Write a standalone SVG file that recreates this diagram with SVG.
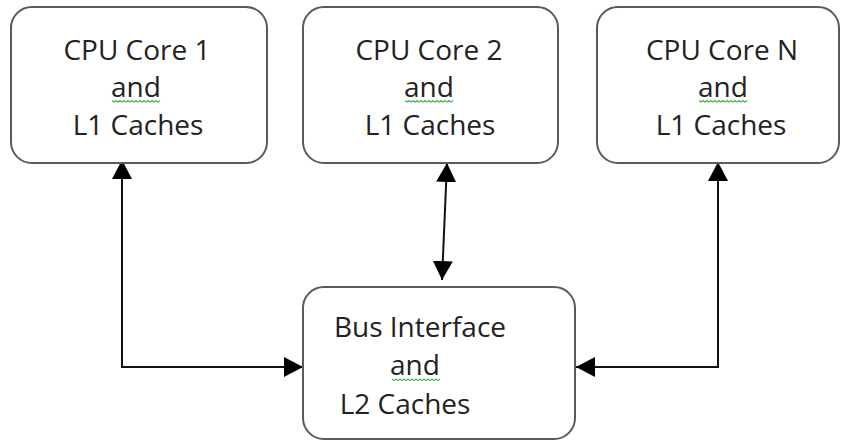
<svg xmlns="http://www.w3.org/2000/svg" width="841" height="441" viewBox="0 0 841 441">
  <style>
    .box { fill: #ffffff; stroke: #5a5a5a; stroke-width: 2; }
    .label { font-family: "Open Sans", "Noto Sans", sans-serif; font-size: 28px; fill: #222222; text-anchor: middle; }
    .wire { fill: none; stroke: #111111; stroke-width: 2; }
    .squiggle { fill: none; stroke: #44b049; stroke-width: 1.2; }
  </style>
  <defs>
    <marker id="arrow" viewBox="0 0 19 20" refX="19" refY="10" markerWidth="19" markerHeight="20" markerUnits="userSpaceOnUse" orient="auto-start-reverse">
      <path d="M0,0 L19,10 L0,20 Z" fill="#000000"/>
    </marker>
    <path id="wave" d="M0,0 l2,1.6 l2,-1.6 l2,1.6 l2,-1.6 l2,1.6 l2,-1.6 l2,1.6 l2,-1.6 l2,1.6 l2,-1.6 l2,1.6 l2,-1.6 l2,1.6 l2,-1.6 l2,1.6 l2,-1.6 l2,1.6 l2,-1.6 l2,1.6 l2,-1.6 l2,1.6 l2,-1.6 l2,1.6 l2,-1.6"/>
  </defs>

  <g id="connectors">
    <path class="wire" d="M122,160 L122,367 L303,367" marker-start="url(#arrow)" marker-end="url(#arrow)"/>
    <path class="wire" d="M447,163 L442,280" marker-start="url(#arrow)" marker-end="url(#arrow)"/>
    <path class="wire" d="M718,162 L718,367 L576,367" marker-start="url(#arrow)" marker-end="url(#arrow)"/>
  </g>

  <g id="core1">
    <rect class="box" x="11" y="7" width="256" height="156" rx="21"/>
    <text class="label" x="137" y="60">CPU Core 1</text>
    <text class="label" x="136" y="97">and</text>
    <text class="label" x="138" y="135">L1 Caches</text>
    <use href="#wave" class="squiggle" x="112" y="100.5"/>
  </g>

  <g id="core2">
    <rect class="box" x="303" y="7" width="255" height="156" rx="21"/>
    <text class="label" x="429" y="60">CPU Core 2</text>
    <text class="label" x="429" y="97">and</text>
    <text class="label" x="430" y="135">L1 Caches</text>
    <use href="#wave" class="squiggle" x="405" y="100.5"/>
  </g>

  <g id="coreN">
    <rect class="box" x="597" y="7" width="242" height="156" rx="21"/>
    <text class="label" x="722" y="60">CPU Core N</text>
    <text class="label" x="723" y="97">and</text>
    <text class="label" x="721" y="135">L1 Caches</text>
    <use href="#wave" class="squiggle" x="699" y="100.5"/>
  </g>

  <g id="bus">
    <rect class="box" x="303" y="287" width="272" height="152" rx="21"/>
    <text class="label" x="420" y="337">Bus Interface</text>
    <text class="label" x="415" y="375">and</text>
    <text class="label" x="405" y="414">L2 Caches</text>
    <use href="#wave" class="squiggle" x="392" y="379"/>
  </g>
</svg>
